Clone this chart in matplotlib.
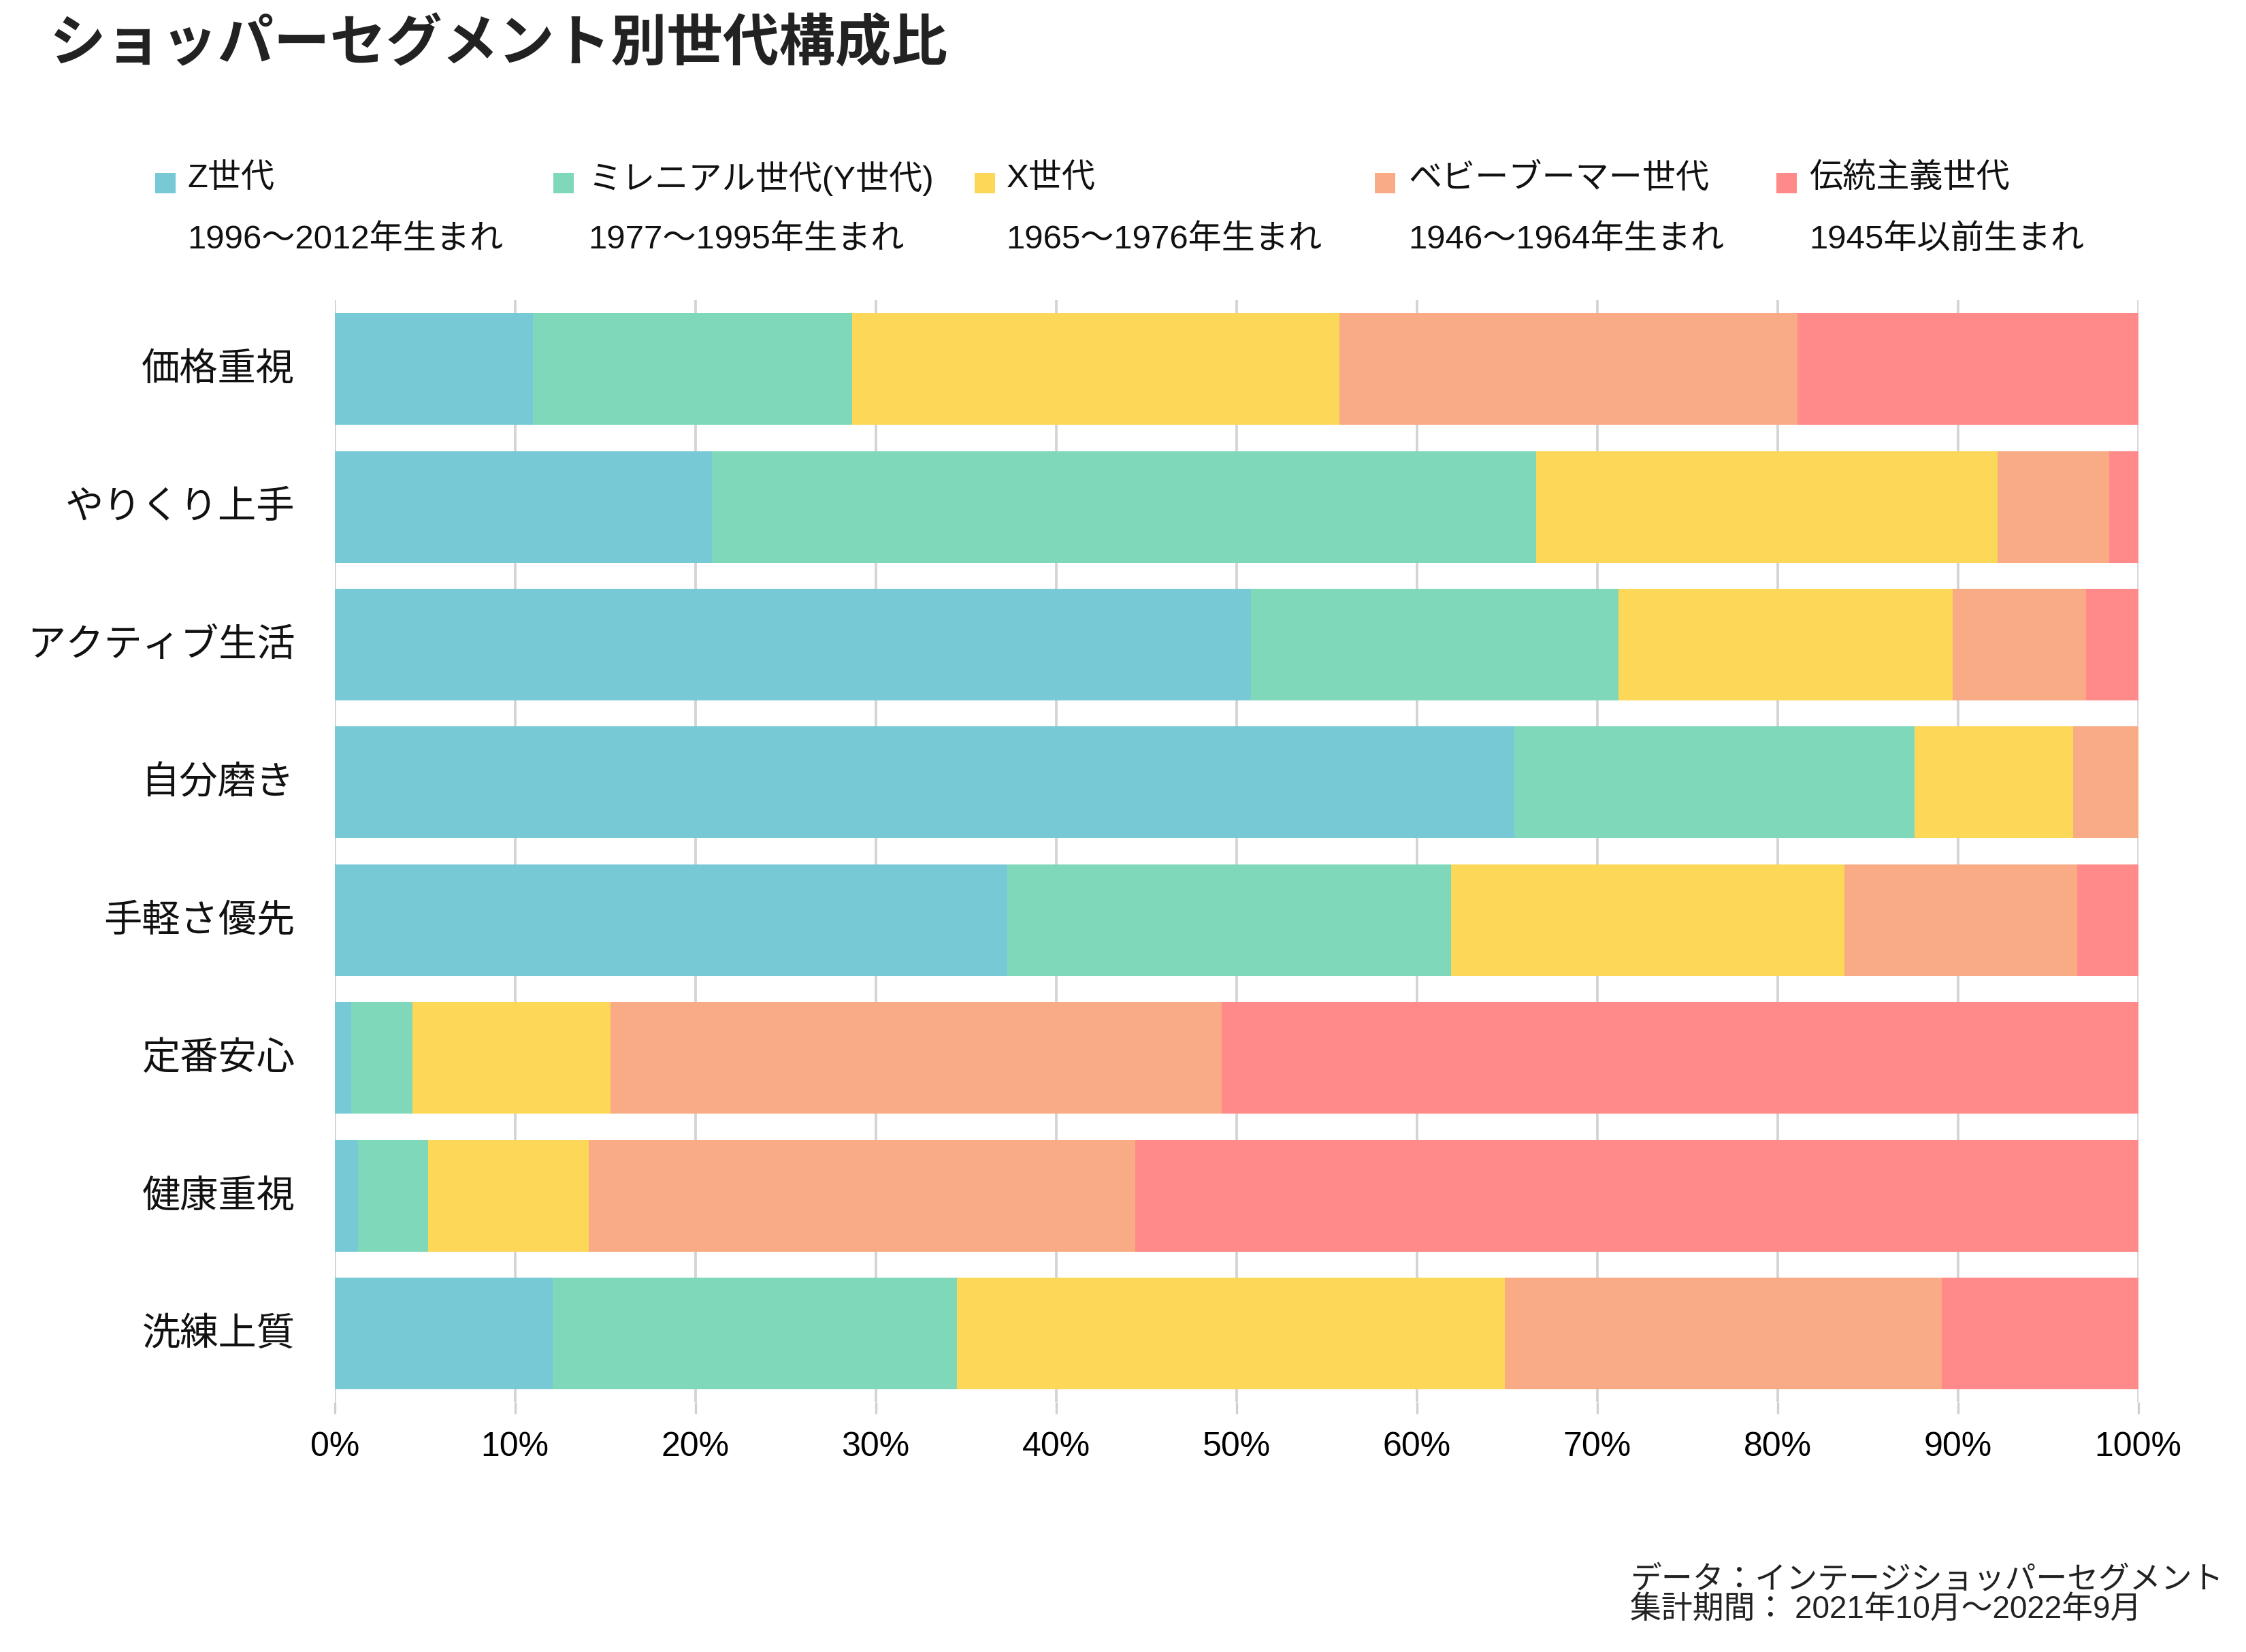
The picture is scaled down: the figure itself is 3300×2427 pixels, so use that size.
import numpy as np
import matplotlib
matplotlib.use("Agg")
import matplotlib.pyplot as plt
from matplotlib.patches import Rectangle

plt.rcParams['font.family'] = ['Noto Sans CJK JP', 'DejaVu Sans']
mixed = ['Liberation Sans', 'Noto Sans CJK JP', 'DejaVu Sans']

# segments (top to bottom)
segments = ["価格重視", "やりくり上手", "アクティブ生活", "自分磨き",
            "手軽さ優先", "定番安心", "健康重視", "洗練上質"]

gen_names = ["Z世代", "ミレニアル世代(Y世代)", "X世代", "ベビーブーマー世代", "伝統主義世代"]
gen_years = ["1996～2012年生まれ", "1977～1995年生まれ", "1965～1976年生まれ",
             "1946～1964年生まれ", "1945年以前生まれ"]

# share (%) per generation, one value per segment
gen_z = [11.0, 20.9, 50.8, 65.4, 37.3, 0.9, 1.3, 12.1]
gen_y = [17.7, 45.7, 20.4, 22.2, 24.6, 3.4, 3.9, 22.4]
gen_x = [27.0, 25.6, 18.5, 8.8, 21.8, 11.0, 8.9, 30.4]
boomer = [25.4, 6.2, 7.4, 3.6, 12.9, 33.9, 30.3, 24.2]
tradit = [18.9, 1.6, 2.9, 0.0, 3.4, 50.8, 55.6, 10.9]

colors = ["#77C9D6", "#80D8BA", "#FDD757", "#F8AB85", "#FF8A89"]

series = [gen_z, gen_y, gen_x, boomer, tradit]

fig = plt.figure(figsize=(11, 8.093), dpi=300)
ax = fig.add_axes([0.149, 0.151, 0.803, 0.667])

y = np.arange(len(segments))
left = np.zeros(len(segments))
for vals, c in zip(series, colors):
    vals = np.array(vals)
    ax.barh(y, vals, left=left, height=0.81, color=c, linewidth=0, zorder=2)
    left += vals

ax.set_xlim(0, 100)
ax.set_ylim(7.5, -0.5)
ax.set_yticks(y)
ax.set_yticklabels(segments, fontsize=13.5, color="#111111", va='center')
xt = np.arange(0, 101, 10)
ax.set_xticks(xt)
ax.set_xticklabels([f"{v}%" for v in xt], fontsize=12,
                   family=['Liberation Sans', 'DejaVu Sans'])
ax.tick_params(axis='y', length=0, pad=14)
ax.tick_params(axis='x', length=4, color="#d0d0d0", pad=6)
ax.grid(axis='x', color="#d3d3d3", linewidth=0.9, zorder=0)
for s in ax.spines.values():
    s.set_visible(False)

# title
fig.text(0.022, 0.973, "ショッパーセグメント別世代構成比", fontsize=19.8,
         fontweight='bold', color="#222222", va='center', ha='left')

# legend
sq_x = [0.0690, 0.2465, 0.4340, 0.6120, 0.7910]
txt_x = [0.0835, 0.2620, 0.4480, 0.6270, 0.8055]
for i in range(5):
    fig.patches.append(Rectangle((sq_x[i], 0.8825), 0.0091, 0.0125,
                                 transform=fig.transFigure, color=colors[i],
                                 linewidth=0))
    fig.text(txt_x[i], 0.892, gen_names[i], fontsize=11.8, va='center',
             ha='left', color="#111111", family=mixed)
    fig.text(txt_x[i], 0.855, gen_years[i], fontsize=11.8, va='center',
             ha='left', color="#111111", family=mixed)

# footnote
fig.text(0.7258, 0.044, "データ：インテージショッパーセグメント", fontsize=11,
         va='center', ha='left', color="#222222", family=mixed)
fig.text(0.7258, 0.0255, "集計期間： 2021年10月～2022年9月", fontsize=11,
         va='center', ha='left', color="#222222", family=mixed)

fig.savefig("out.png", dpi=300)
